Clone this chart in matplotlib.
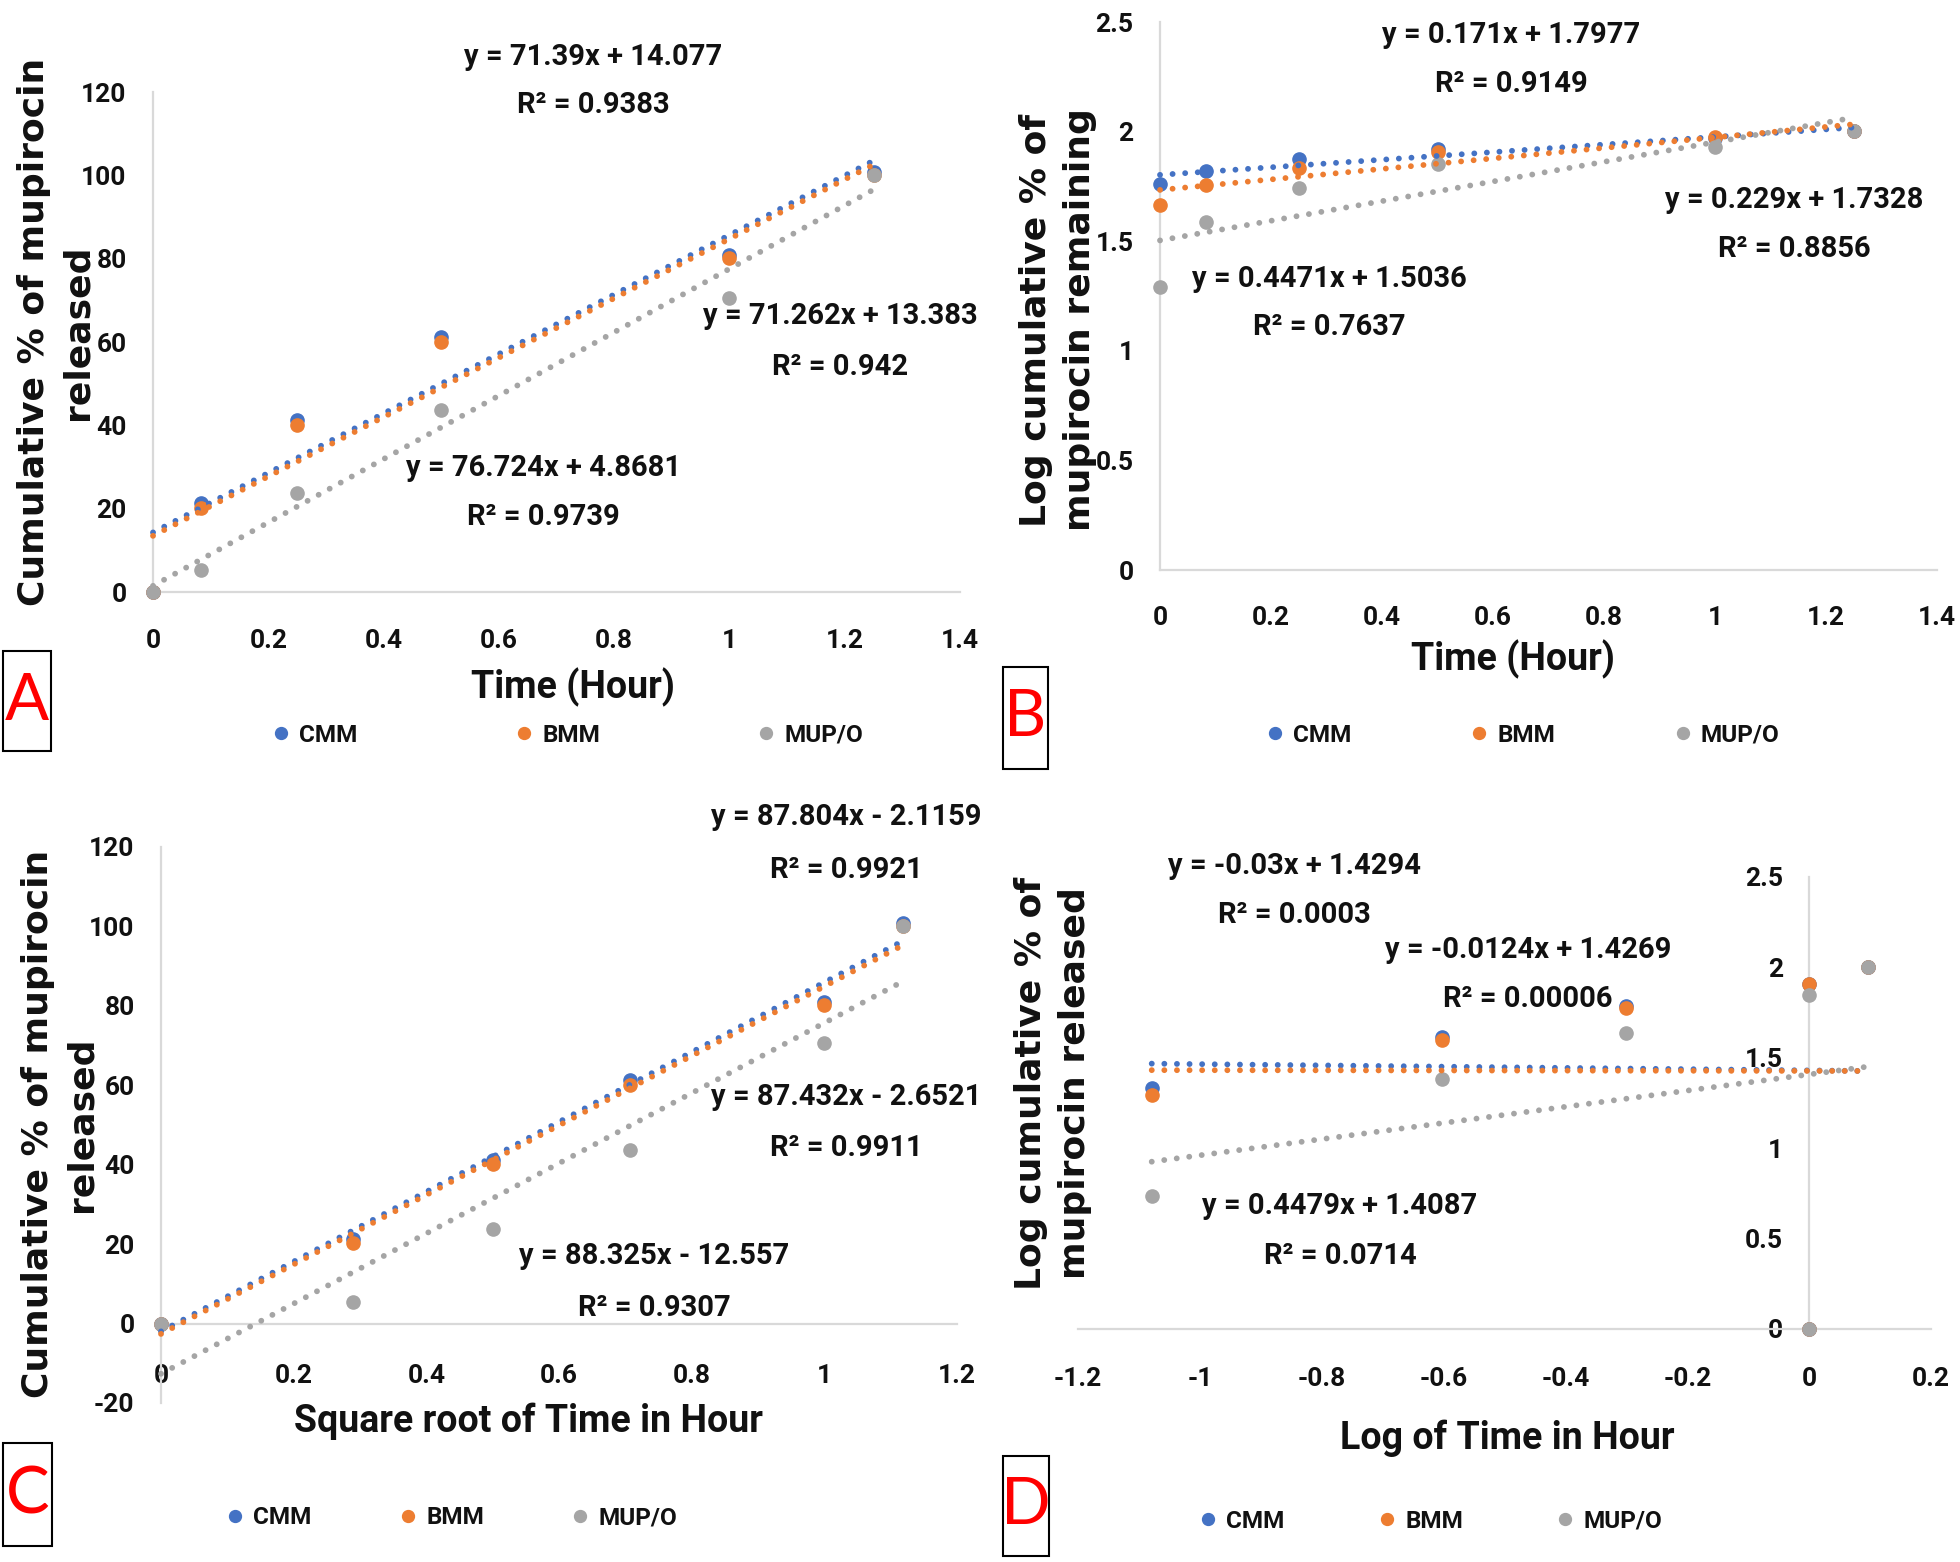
import matplotlib
matplotlib.use('Agg')
import matplotlib.pyplot as plt
from matplotlib.patches import Rectangle
from matplotlib.ticker import FuncFormatter
import numpy as np

W, H = 1960, 1562

# ---------------- data ----------------
series_names = ['CMM', 'BMM', 'MUP/O']
colors = ['#4472C4', '#ED7D31', '#A5A5A5']

time_h = [0, 0.083, 0.25, 0.5, 1, 1.25]
sqrt_time = [0, 0.289, 0.5, 0.707, 1, 1.118]
log_time = [0, -1.079, -0.602, -0.301, 0, 0.097]

# cumulative % released (panels A and C)
rel_cmm = [0, 21.4, 41.3, 61.3, 81.0, 100.8]
rel_bmm = [0, 20.2, 40.1, 60.1, 80.2, 100.0]
rel_mup = [0, 5.4, 23.8, 43.6, 70.6, 100.0]

# log cumulative % remaining (panel B)
logrem_cmm = [1.761, 1.818, 1.875, 1.920, 1.970, 2.005]
logrem_bmm = [1.666, 1.757, 1.836, 1.905, 1.975, 2.003]
logrem_mup = [1.289, 1.586, 1.743, 1.852, 1.930, 2.003]

# log cumulative % released (panel D)
logrel_cmm = [0, 1.331, 1.616, 1.787, 1.910, 2.003]
logrel_bmm = [0, 1.293, 1.597, 1.776, 1.906, 2.000]
logrel_mup = [0, 0.738, 1.381, 1.638, 1.845, 2.003]

# trendline equation labels shown on the chart: slope, intercept, R^2
fit_A_slope = [71.39, 71.262, 76.724]
fit_A_icpt = [14.077, 13.383, 4.8681]
fit_A_r2 = [0.9383, 0.942, 0.9739]

fit_B_slope = [0.171, 0.229, 0.4471]
fit_B_icpt = [1.7977, 1.7328, 1.5036]
fit_B_r2 = [0.9149, 0.8856, 0.7637]

fit_C_slope = [87.804, 87.432, 88.325]
fit_C_icpt = [-2.1159, -2.6521, -12.557]
fit_C_r2 = [0.9921, 0.9911, 0.9307]

fit_D_slope = [-0.03, -0.0124, 0.4479]
fit_D_icpt = [1.4294, 1.4269, 1.4087]
fit_D_r2 = [0.0003, 0.00006, 0.0714]

# ---------------- style ----------------
NARROW = ['Roboto', 'DejaVu Sans']
LETTER = ['Lato', 'DejaVu Sans']
WIDE = ['DejaVu Sans']
AXCOL = '#D9D9D9'
TXT = '#111111'

plt.rcParams['font.family'] = NARROW
plt.rcParams['font.weight'] = 'bold'
plt.rcParams['xtick.labelsize'] = 19
plt.rcParams['ytick.labelsize'] = 19
plt.rcParams['xtick.color'] = TXT
plt.rcParams['ytick.color'] = TXT


def fx(x):
    return x / W


def fy(y):
    return 1 - y / H


def fmt(v):
    return np.format_float_positional(v, trim='-')


def eq_text(m, b):
    sign = '+' if b >= 0 else '-'
    return f"y = {fmt(m)}x {sign} {fmt(abs(b))}"


def tickfmt(v, p):
    s = f"{round(v, 6):g}"
    return '0' if s == '-0' else s


fig = plt.figure(figsize=(W / 100, H / 100), dpi=100)
fig.patch.set_facecolor('white')


def make_axes(px_left, px_right, px_top, px_bottom):
    return fig.add_axes([fx(px_left), fy(px_bottom),
                         (px_right - px_left) / W, (px_bottom - px_top) / H])


def setup(ax, xlim, ylim, xticks, yticks, xpad, ypad, xaxis_at=None, yaxis_at=None):
    ax.set_xlim(*xlim)
    ax.set_ylim(*ylim)
    ax.set_xticks(xticks)
    ax.set_yticks(yticks)
    ax.xaxis.set_major_formatter(FuncFormatter(tickfmt))
    ax.yaxis.set_major_formatter(FuncFormatter(tickfmt))
    for s in ['top', 'right']:
        ax.spines[s].set_visible(False)
    for s in ['left', 'bottom']:
        ax.spines[s].set_color(AXCOL)
        ax.spines[s].set_linewidth(1.6)
    if yaxis_at is not None:
        ax.spines['left'].set_position(('data', yaxis_at))
    if xaxis_at is not None:
        ax.spines['bottom'].set_position(('data', xaxis_at))
    ax.tick_params(axis='x', length=0, pad=xpad)
    ax.tick_params(axis='y', length=0, pad=ypad)
    ax.set_facecolor('none')


def draw_series(ax, xs, ys_list):
    handles = []
    for ys, c, name in zip(ys_list, colors, series_names):
        h, = ax.plot(xs, ys, 'o', color=c, ms=9.5, mec=c, label=name, zorder=3,
                     clip_on=False)
        handles.append(h)
    xx = np.array([min(xs), max(xs)])
    for ys, c in zip(ys_list, colors):
        m, b = np.polyfit(xs, ys, 1)  # linear trendline, as the spreadsheet draws it
        ax.plot(xx, m * xx + b, color=c, lw=4.2, linestyle=(0, (0.01, 2.15)),
                dash_capstyle='round', zorder=4, clip_on=False)
    return handles


def eq_labels(slopes, icpts, r2s, positions):
    for m, b, r2, (x, y1, y2) in zip(slopes, icpts, r2s, positions):
        fig.text(fx(x), fy(y1), eq_text(m, b), ha='center', va='center',
                 fontsize=21, fontweight='bold', family=NARROW, color=TXT)
        fig.text(fx(x), fy(y2), f"R\u00b2 = {fmt(r2)}", ha='center', va='center',
                 fontsize=21, fontweight='bold', family=NARROW, color=TXT)


def legend(ax, handles, cx, cy, colsp):
    leg = ax.legend(handles, series_names, loc='center', bbox_to_anchor=(fx(cx), fy(cy)),
                    bbox_transform=fig.transFigure, ncol=3, frameon=False,
                    columnspacing=colsp, handlelength=0.5, handletextpad=0.5,
                    markerscale=0.9, borderpad=0,
                    prop={'family': NARROW, 'size': 17.5, 'weight': 'bold'})
    for t in leg.get_texts():
        t.set_color(TXT)


def ylabel(text, x, y):
    fig.text(fx(x), fy(y), text, rotation=90, ha='center', va='center',
             multialignment='center', fontsize=26, fontweight='bold', family=WIDE,
             linespacing=1.35, color=TXT)


def xlabel(text, x, y, size=27):
    fig.text(fx(x), fy(y), text, ha='center', va='center', fontsize=size,
             fontweight='bold', family=NARROW, color=TXT)


def panel_tag(letter, x0, y0, x1, y1):
    fig.patches.append(Rectangle((fx(x0), fy(y1)), (x1 - x0) / W, (y1 - y0) / H,
                                 transform=fig.transFigure, fill=False,
                                 edgecolor='black', lw=1.5))
    fig.text(fx((x0 + x1) / 2), fy((y0 + y1) / 2), letter, ha='center', va='center',
             fontsize=47, fontweight='normal', color='#ff0000', family=LETTER)


# ---------------- Panel A ----------------
axA = make_axes(153, 960, 92, 592)
setup(axA, (0, 1.4), (0, 120), np.arange(0, 1.41, 0.2), np.arange(0, 121, 20),
      xpad=27, ypad=19)
hA = draw_series(axA, time_h, [rel_cmm, rel_bmm, rel_mup])
eq_labels(fit_A_slope, fit_A_icpt, fit_A_r2,
          [(593, 57, 105), (840, 316, 367), (543, 468, 517)])
legend(axA, hA, 569, 735, 6.6)
ylabel('Cumulative % of mupirocin\nreleased', 56, 332)
xlabel('Time (Hour)', 573, 687)
panel_tag('A', 3, 651, 51, 751)

# ---------------- Panel B ----------------
axB = make_axes(1160, 1937, 22, 570)
setup(axB, (0, 1.4), (0, 2.5), np.arange(0, 1.41, 0.2), np.arange(0, 2.51, 0.5),
      xpad=26, ypad=19)
hB = draw_series(axB, time_h, [logrem_cmm, logrem_bmm, logrem_mup])
eq_labels(fit_B_slope, fit_B_icpt, fit_B_r2,
          [(1511, 35, 84), (1794, 200, 249), (1329, 279, 327)])
legend(axB, hB, 1524, 735, 5.0)
ylabel('Log cumulative % of\nmupirocin remaining', 1058, 320)
xlabel('Time (Hour)', 1513, 659)
panel_tag('B', 1003, 667, 1048, 769)

# ---------------- Panel C ----------------
axC = make_axes(161, 957, 847, 1403)
setup(axC, (0, 1.2), (-20, 120), np.arange(0, 1.21, 0.2), np.arange(-20, 121, 20),
      xpad=29, ypad=19, xaxis_at=0)
hC = draw_series(axC, sqrt_time, [rel_cmm, rel_bmm, rel_mup])
eq_labels(fit_C_slope, fit_C_icpt, fit_C_r2,
          [(846, 817, 870), (846, 1097, 1148), (654, 1256, 1308)])
legend(axC, hC, 453, 1518, 3.7)
ylabel('Cumulative % of mupirocin\nreleased', 60, 1124)
xlabel('Square root of Time in Hour', 528, 1421)
panel_tag('C', 3, 1443, 52, 1546)

# ---------------- Panel D ----------------
axD = make_axes(1078, 1931, 877, 1329)
setup(axD, (-1.2, 0.2), (0, 2.5), np.arange(-1.2, 0.21, 0.2), np.arange(0, 2.51, 0.5),
      xpad=27, ypad=19, yaxis_at=0)
hD = draw_series(axD, log_time, [logrel_cmm, logrel_bmm, logrel_mup])
eq_labels(fit_D_slope, fit_D_icpt, fit_D_r2,
          [(1294, 866, 915), (1528, 950, 999), (1340, 1206, 1256)])
legend(axD, hD, 1432, 1521, 3.95)
ylabel('Log cumulative % of\nmupirocin released', 1053, 1083)
xlabel('Log of Time in Hour', 1507, 1438)
panel_tag('D', 1003, 1456, 1049, 1556)

fig.savefig('out.png', dpi=100, facecolor='white')
